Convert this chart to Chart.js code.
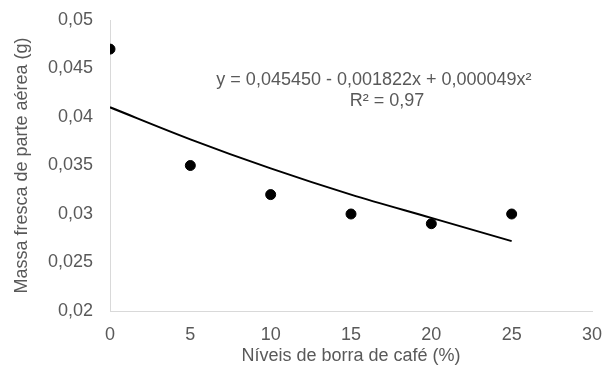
<!DOCTYPE html>
<html>
<head>
<meta charset="utf-8">
<script src="https://cdn.jsdelivr.net/npm/chart.js@4/dist/chart.umd.min.js"></script>
<style>
  html, body { margin: 0; padding: 0; background: #fff; }
  #wrap { width: 611px; height: 374px; }
</style>
</head>
<body>
<div id="wrap"><canvas id="massaChart" width="611" height="374"></canvas></div>
<script>
// levels of coffee grounds (%) and measured fresh mass (g)
const niveis = [0, 5, 10, 15, 20, 25];
const massa = [0.047, 0.035, 0.032, 0.030, 0.029, 0.030];
// trend line as drawn in the picture
const tendencia = [0.0410, 0.0377, 0.0347, 0.0320, 0.0296, 0.0272];
const yTicks = [0.02, 0.025, 0.03, 0.035, 0.04, 0.045, 0.05];

const grey = '#595959';
const fontFam = '"Liberation Sans", Arial, sans-serif';

// writes the equation and R² on the plot
const equationText = {
    id: 'equationText',
    afterDatasetsDraw(chart) {
        const ctx = chart.ctx;
        const xs = chart.scales.x, ys = chart.scales.y;
        ctx.save();
        ctx.fillStyle = grey;
        ctx.font = '18px ' + fontFam;
        ctx.textAlign = 'center';
        ctx.textBaseline = 'middle';
        ctx.fillText('y = 0,045450 - 0,001822x + 0,000049x²', xs.getPixelForValue(16.43), ys.getPixelForValue(0.04381));
        ctx.fillText('R² = 0,97', xs.getPixelForValue(17.24), ys.getPixelForValue(0.04165));
        ctx.restore();
    }
};

const fmt = v => String(Math.round(v * 1000) / 1000).replace('.', ',');

new Chart(document.getElementById('massaChart').getContext('2d'), {
    type: 'scatter',
    data: {
        datasets: [{
            type: 'line',
            data: niveis.map((x, i) => ({ x: x, y: tendencia[i] })),
            borderColor: '#000',
            borderWidth: 2,
            pointRadius: 0,
            cubicInterpolationMode: 'monotone',
            fill: false
        }, {
            data: niveis.map((x, i) => ({ x: x, y: massa[i] })),
            backgroundColor: '#000',
            borderColor: '#000',
            pointRadius: 5,
            pointHoverRadius: 5
        }]
    },
    options: {
        responsive: false,
        animation: false,
        events: [],
        layout: { padding: { top: 20, right: 19, left: 0, bottom: 0 } },
        plugins: { legend: { display: false }, tooltip: { enabled: false } },
        scales: {
            x: {
                type: 'linear',
                min: 0, max: 30,
                grid: { display: false, drawTicks: false },
                border: { color: '#d9d9d9', width: 1 },
                ticks: { stepSize: 5, color: grey, padding: 13, font: { size: 18, family: fontFam } },
                title: {
                    display: true,
                    text: 'Níveis de borra de café (%)',
                    color: grey,
                    font: { size: 18, family: fontFam },
                    padding: { top: 0, bottom: 7 }
                },
                afterFit: s => { s.height = 63; s.paddingLeft = 0; s.paddingRight = 0; }
            },
            y: {
                min: 0.02, max: 0.05,
                grid: { display: false, drawTicks: false },
                border: { color: '#d9d9d9', width: 1 },
                afterBuildTicks: s => { s.ticks = yTicks.map(v => ({ value: v })); },
                ticks: { color: grey, padding: 17, font: { size: 18, family: fontFam }, callback: v => fmt(v) },
                title: {
                    display: true,
                    text: 'Massa fresca de parte aérea (g)',
                    color: grey,
                    font: { size: 18, family: fontFam },
                    padding: { top: 11, bottom: 0 }
                },
                afterFit: s => { s.width = 110; s.paddingTop = 0; s.paddingBottom = 0; }
            }
        }
    },
    plugins: [equationText]
});
</script>
</body>
</html>
